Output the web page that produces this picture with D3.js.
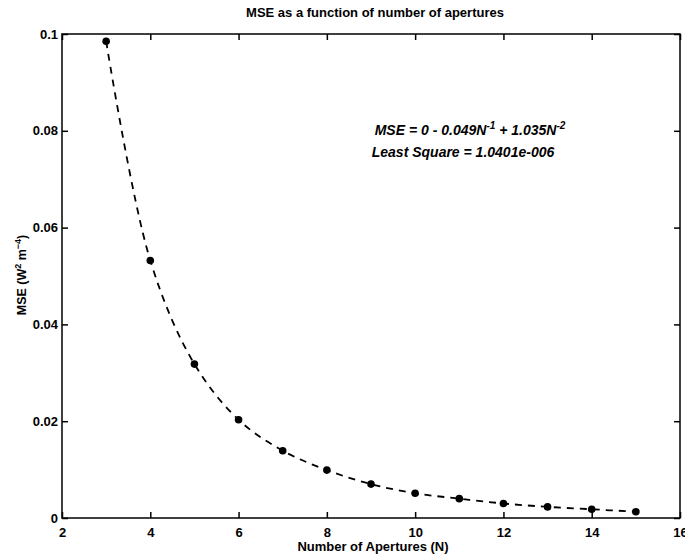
<!DOCTYPE html>
<html><head><meta charset="utf-8">
<script src="https://cdn.jsdelivr.net/npm/d3@7"></script>
<style>body{margin:0;background:#fff}svg{display:block}text{font-family:"Liberation Sans",Arial,sans-serif;font-weight:bold;fill:#000}</style>
</head><body><svg id="c" width="685" height="557"></svg>
<script>
const apertures = [3,4,5,6,7,8,9,10,11,12,13,14,15];
const mseValues = [0.0985,0.0532,0.0318,0.0203,0.0139,0.0099,0.0070,0.0051,0.0040,0.0030,0.0023,0.0018,0.0013];
const xTicks = [2,4,6,8,10,12,14,16];
const yTicks = [0,0.02,0.04,0.06,0.08,0.1];
const yTickLabels = ["0","0.02","0.04","0.06","0.08","0.1"];
const titleText = "MSE as a function of number of apertures";
const xLabel = "Number of Apertures (N)";

const svg = d3.select("#c");
const L=62,R=680,T=34,B=518;
const x = d3.scaleLinear().domain([2,16]).range([L,R]);
const y = d3.scaleLinear().domain([0,0.1]).range([B,T]);

svg.append("rect").attr("x",L).attr("y",T).attr("width",R-L).attr("height",B-T)
  .attr("fill","none").attr("stroke","#000").attr("stroke-width",1.5);

const tl=6;
svg.append("g").attr("transform",`translate(0,${B})`)
  .call(d3.axisBottom(x).tickValues(xTicks).tickSize(-tl).tickPadding(tl+4).tickFormat(d3.format("d")))
  .call(g=>{g.select(".domain").remove();g.selectAll("line").attr("stroke-width",1.5);g.selectAll("text").attr("font-size",13).attr("font-family","Liberation Sans").attr("font-weight","bold");});
svg.append("g").attr("transform",`translate(0,${T})`)
  .call(d3.axisTop(x).tickValues(xTicks).tickSize(-tl).tickFormat(""))
  .call(g=>{g.select(".domain").remove();g.selectAll("line").attr("stroke-width",1.5);});
svg.append("g").attr("transform",`translate(${L},0)`)
  .call(d3.axisLeft(y).tickValues(yTicks).tickSize(-tl).tickPadding(4).tickFormat((d,i)=>yTickLabels[i]))
  .call(g=>{g.select(".domain").remove();g.selectAll("line").attr("stroke-width",1.5);g.selectAll("text").attr("font-size",13).attr("font-family","Liberation Sans").attr("font-weight","bold");});
svg.append("g").attr("transform",`translate(${R},0)`)
  .call(d3.axisRight(y).tickValues(yTicks).tickSize(-tl).tickFormat(""))
  .call(g=>{g.select(".domain").remove();g.selectAll("line").attr("stroke-width",1.5);});

const data = apertures.map((n,i)=>({n,v:mseValues[i]}));
svg.append("path").datum(data)
  .attr("d",d3.line().x(d=>x(d.n)).y(d=>y(d.v)).curve(d3.curveCatmullRom.alpha(0.5)))
  .attr("fill","none").attr("stroke","#000").attr("stroke-width",1.8).attr("stroke-dasharray","7,6");

svg.append("g").selectAll("circle").data(data).join("circle")
  .attr("cx",d=>x(d.n)).attr("cy",d=>y(d.v)).attr("r",3.8).attr("fill","#000");

svg.append("text").attr("x",(L+R)/2+4).attr("y",17).attr("text-anchor","middle").attr("font-size",13).text(titleText);
svg.append("text").attr("x",(L+R)/2+2).attr("y",551).attr("text-anchor","middle").attr("font-size",13).text(xLabel);
const yl = svg.append("text").attr("transform","translate(26,275) rotate(-90)").attr("text-anchor","middle").attr("font-size",12.5);
yl.append("tspan").text("MSE (W");
yl.append("tspan").attr("dy",-5).attr("font-size",9).text("2");
yl.append("tspan").attr("dy",5).text(" m");
yl.append("tspan").attr("dy",-5).attr("font-size",9).text("\u22124");
yl.append("tspan").attr("dy",5).text(")");

const a1 = svg.append("text").attr("x",470).attr("y",135).attr("text-anchor","middle").attr("font-size",14).attr("font-style","italic");
a1.append("tspan").text("MSE = 0 - 0.049N");
a1.append("tspan").attr("dy",-6).attr("font-size",10).text("-1");
a1.append("tspan").attr("dy",6).text(" + 1.035N");
a1.append("tspan").attr("dy",-6).attr("font-size",10).text("-2");
svg.append("text").attr("x",463).attr("y",157).attr("text-anchor","middle").attr("font-size",14).attr("font-style","italic").text("Least Square = 1.0401e-006");
</script></body></html>
